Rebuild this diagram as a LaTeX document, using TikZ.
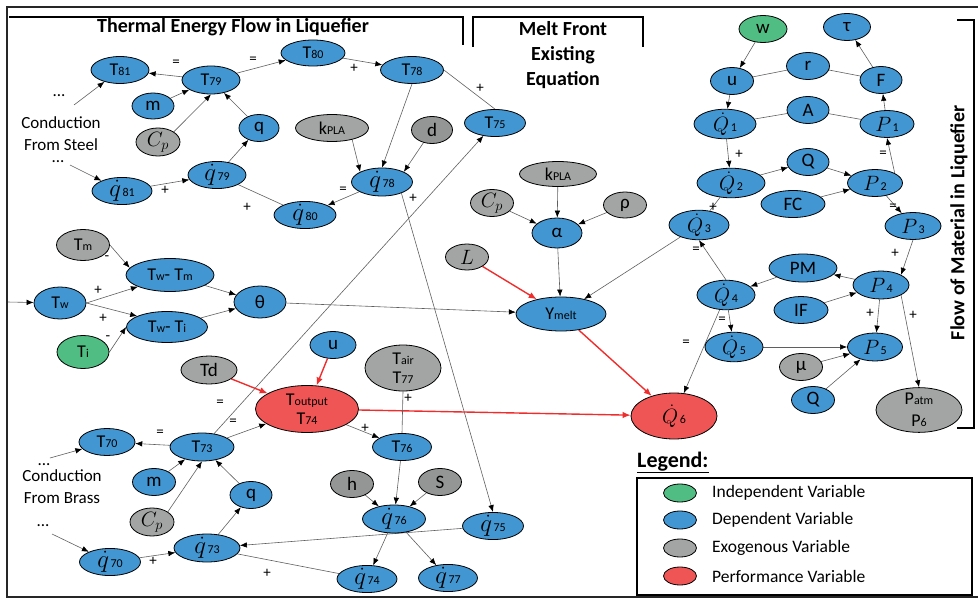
\documentclass[tikz,border=0pt]{standalone}
\usepackage{fontspec}
\setmainfont{Carlito}
\usetikzlibrary{shapes.geometric,arrows.meta}
\definecolor{cdep}{RGB}{66,150,210}
\definecolor{cexo}{RGB}{163,165,165}
\definecolor{cexod}{RGB}{148,150,150}
\definecolor{cind}{RGB}{80,190,130}
\definecolor{cperf}{RGB}{240,85,85}
\definecolor{cred}{RGB}{240,45,45}
\definecolor{cline}{RGB}{95,95,95}
\newcommand\subt[1]{{\fontsize{12}{12}\selectfont #1}}
\newcommand\qd{{\fontsize{23}{23}\selectfont$\dot q$}\kern1.5pt}
\newcommand\Qd{{\fontsize{21}{21}\selectfont$\dot Q$}\kern1.5pt}
\newcommand\Pm{{\fontsize{21}{21}\selectfont$P$}\kern1.5pt}
\newcommand\Cpm{{\fontsize{21}{21}\selectfont$C_p$}}
\newcommand\Lm{{\fontsize{21}{21}\selectfont$L$}}
\pgfdeclarelayer{bg}
\pgfsetlayers{bg,main}
\tikzset{
  v/.style={ellipse, draw=black, line width=0.8pt, inner sep=-1pt, font=\fontsize{18}{19}\selectfont},
  dep/.style={v, fill=cdep},
  exo/.style={v, fill=cexo},
  exod/.style={v, fill=cexod},
  ind/.style={v, fill=cind},
  perf/.style={v, fill=cperf},
  big/.style={font=\fontsize{19}{20}\selectfont},
  sz/.style 2 args={minimum width=#1pt, minimum height=#2pt},
  arr/.style={draw=cline, line width=0.6pt, -{Latex[length=7pt,width=5.5pt,black]}},
  ln/.style={draw=cline, line width=0.6pt},
  rarr/.style={draw=cred, line width=1.4pt, -{Latex[length=8pt,width=6.5pt]}},
  lab/.style={font=\fontsize{15}{15}\selectfont, inner sep=0pt},
  ann/.style={font=\fontsize{17}{22}\selectfont, align=center, inner sep=0pt},
  ttl/.style={font=\bfseries\fontsize{20}{25}\selectfont, align=center, inner sep=0pt},
  legt/.style={font=\fontsize{17.5}{18}\selectfont, anchor=west, inner sep=0pt},
}
\begin{document}
\begin{tikzpicture}[x=1pt,y=-1pt]
\useasboundingbox (0,0) rectangle (978,599);
% frame and brackets
\draw[line width=2.5pt, draw=black!85] (978,7) -- (7,7) -- (7,597) -- (978,597);
\draw[line width=1.6pt] (9,17) -- (463,17) -- (463,45);
\draw[line width=1.6pt] (473,47) -- (473,17) -- (643,17) -- (643,47);
\draw[line width=1.6pt] (957,20) -- (974,20) -- (974,428) -- (957,428);
\node[ttl] (t1) at (233,27) {Thermal Energy Flow in Liquefier};
\node[ttl] (t2) at (563,55) {Melt Front\\Existing\\Equation};
\node[ttl, rotate=90] (t3) at (959,223) {Flow of Material in Liquefier};

% ---- top-left nodes
\node[dep,sz={58}{27}] (T81) at (120,70) {T\subt{81}};
\node[dep,sz={58}{28}] (T79) at (211,80) {T\subt{79}};
\node[dep,big,sz={42}{26}] (m1) at (153,106) {m};
\node[exo,sz={44}{28}] (cp1) at (158,142) {\Cpm};
\node[dep,big,sz={40}{27}] (q1) at (259,128) {q};
\node[dep,sz={58}{27}] (qd79) at (217,175) {\qd\subt{79}};
\node[dep,sz={60}{27}] (qd81) at (122,191) {\qd\subt{81}};
\node[dep,sz={64}{26}] (T80) at (313,53) {T\subt{80}};
\node[dep,sz={63}{27}] (T78) at (412,70) {T\subt{78}};
\node[exo,sz={73}{27}] (kp1) at (332,128) {k\subt{PLA}};
\node[exod,big,sz={41}{27}] (d) at (432,130) {d};
\node[dep,sz={61}{28}] (qd78) at (382,182) {\qd\subt{78}};
\node[dep,sz={62}{27}] (qd80) at (305,215) {\qd\subt{80}};
\node[dep,sz={61}{27}] (T75) at (495,123) {T\subt{75}};
\node[ann] (dt1) at (59,96) {...};
\node[ann] (cs) at (61,134) {Conduction\\From Steel};
\node[ann] (dt2) at (58,162) {...};
\coordinate (c1) at (74,105);
\coordinate (c2) at (70,165);

% ---- left-middle nodes
\node[exo,sz={53}{31}] (Tm) at (83,245) {T\subt{m}};
\node[dep,sz={88}{33}] (TwTm) at (170,275) {T\subt{w}- T\subt{m}};
\node[dep,sz={52}{32}] (Tw) at (60,303) {T\subt{w}};
\node[dep,big,sz={52}{32}] (theta) at (260,302) {θ};
\node[dep,sz={81}{31}] (TwTi) at (167,327) {T\subt{w}- T\subt{i}};
\node[ind,sz={52}{33}] (Ti) at (83,352) {T\subt{i}};
\coordinate (c5) at (7,302);

% ---- middle nodes
\node[exo,sz={77}{25}] (kp2) at (558,174) {k\subt{PLA}};
\node[exo,sz={43}{27}] (cp2) at (492,203) {\Cpm};
\node[exo,big,sz={43}{26}] (rho) at (625,205) {ρ};
\node[dep,big,sz={50}{30}] (alpha) at (557,233) {α};
\node[exo,sz={43}{26}] (L) at (467,257) {\Lm};
\node[dep,sz={90}{34}] (Y) at (561,314) {Y\subt{melt}};
\node[perf,big,sz={86}{46}] (Q6) at (674,416) {\Qd\subt{6}};
\node[dep,big,sz={46}{27}] (u2) at (333,345) {u};
\node[exo,sz={76}{46},align=center,font=\fontsize{18}{19}\selectfont] (Tair) at (403,368) {T\subt{air}\\T\subt{77}};
\node[perf,sz={103}{47},align=center,font=\fontsize{18}{19}\selectfont] (Tout) at (307,409) {T\subt{output}\\T\subt{74}};
\node[exo,big,sz={56}{28}] (Td) at (209,370) {Td};

% ---- right nodes
\node[ind,big,sz={48}{27}] (w) at (763,29) {w};
\node[dep,big,sz={47}{27}] (tau) at (847,27) {τ};
\node[dep,big,sz={43}{27}] (u1) at (732,81) {u};
\node[dep,big,sz={43}{27}] (r) at (808,66) {r};
\node[dep,big,sz={42}{27}] (F) at (881,80) {F};
\node[dep,big,sz={62}{27}] (Q1) at (725,124) {\Qd\subt{1}};
\node[dep,big,sz={42}{27}] (A) at (808,110) {A};
\node[dep,big,sz={54}{27}] (P1) at (887,124) {\Pm\subt{1}};
\node[dep,big,sz={68}{27}] (Q2) at (731,183) {\Qd\subt{2}};
\node[dep,big,sz={42}{27}] (Qa) at (808,162) {Q};
\node[dep,big,sz={55}{27}] (P2) at (875,183) {\Pm\subt{2}};
\node[dep,big,sz={64}{27}] (FC) at (793,204) {FC};
\node[dep,big,sz={60}{27}] (Q3) at (699,225) {\Qd\subt{3}};
\node[dep,big,sz={56}{27}] (P3) at (913,226) {\Pm\subt{3}};
\node[dep,big,sz={68}{28}] (PM) at (803,268) {PM};
\node[dep,big,sz={56}{28}] (P4) at (881,285) {\Pm\subt{4}};
\node[dep,big,sz={58}{27}] (Q4) at (726,295) {\Qd\subt{4}};
\node[dep,big,sz={54}{27}] (IF) at (801,310) {IF};
\node[dep,big,sz={58}{27}] (Q5) at (734,347) {\Qd\subt{5}};
\node[dep,big,sz={55}{28}] (P5) at (875,347) {\Pm\subt{5}};
\node[exo,big,sz={43}{27}] (mu) at (801,367) {μ};
\node[dep,big,sz={43}{27}] (Qb) at (813,400) {Q};
\node[exo,sz={86}{44},align=center,font=\fontsize{18}{22}\selectfont] (P6) at (919,410) {P\subt{atm}\\P\subt{6}};

% ---- bottom-left nodes
\node[dep,sz={56}{27}] (T70) at (107,442) {T\subt{70}};
\node[dep,sz={64}{28}] (T73) at (202,447) {T\subt{73}};
\node[dep,big,sz={43}{27}] (m2) at (154,482) {m};
\node[exo,sz={44}{28}] (cp3) at (152,522) {\Cpm};
\node[dep,big,sz={42}{27}] (q2) at (251,495) {q};
\node[dep,sz={61}{27}] (qd70) at (110,562) {\qd\subt{70}};
\node[dep,sz={66}{28}] (qd73) at (207,548) {\qd\subt{73}};
\node[ann] (dt3) at (44,465) {...};
\node[ann] (cb) at (62,487) {Conduction\\From Brass};
\node[ann] (dt4) at (43,526) {...};
\coordinate (c3) at (50,458);
\coordinate (c4) at (52,534);

% ---- bottom-middle nodes
\node[dep,sz={59}{27}] (T76) at (402,447) {T\subt{76}};
\node[exod,big,sz={43}{27}] (h) at (352,484) {h};
\node[exod,big,sz={43}{27}] (S) at (440,482) {S};
\node[dep,sz={63}{28}] (qd76) at (394,519) {\qd\subt{76}};
\node[dep,sz={61}{27}] (qd75) at (493,526) {\qd\subt{75}};
\node[dep,sz={60}{27}] (qd74) at (367,579) {\qd\subt{74}};
\node[dep,sz={59}{27}] (qd77) at (448,578) {\qd\subt{77}};

% ---- connectors
\begin{pgfonlayer}{bg}
\draw[arr] (c1) -- (T81);
\draw[arr] (c2) -- (qd81);
\draw[arr] (T79) -- (T81);
\draw[arr] (m1) -- (T79);
\draw[arr] (cp1.north east) -- (T79.south);
\draw[arr] (q1) -- (T79);
\draw[arr] (qd79) -- (q1);
\draw[arr] (qd81) -- (qd79);
\draw[arr] (T79) -- (T80);
\draw[arr] (T80) -- (T78);
\draw[arr] (T78.south) -- (qd78.north);
\draw[arr] (kp1.-30) -- (qd78.north west);
\draw[arr] (d) -- (qd78.north east);
\draw[arr] (qd78) -- (qd80);
\draw[ln] (qd79) -- (qd80);
\draw[ln] (T78.east) -- (T75.north);
\draw[arr] (qd78.-30) -- (qd75.north);
\draw[arr] (T73) -- (T75);
% left-middle
\draw[arr] (c5) -- (Tw);
\draw[arr] (Tm.east) -- (TwTm.170);
\draw[arr] (Tw.east) -- (TwTm.200);
\draw[arr] (Tw.east) -- (TwTi.160);
\draw[arr] (Ti.east) -- (TwTi.west);
\draw[arr] (TwTm) -- (theta);
\draw[arr] (TwTi) -- (theta);
\draw[arr] (theta) -- (Y);
% middle
\draw[arr] (kp2) -- (alpha);
\draw[arr] (cp2) -- (alpha);
\draw[arr] (rho) -- (alpha);
\draw[arr] (alpha) -- (Y);
\draw[rarr] (L) -- (Y);
\draw[arr] (Q3) -- (Y);
\draw[rarr] (Y) -- (Q6);
\draw[rarr] (Tout) -- (Q6);
\draw[rarr] (u2) -- (Tout);
\draw[rarr] (Td) -- (Tout);
% bottom
\draw[arr] (c3) -- (T70);
\draw[arr] (c4) -- (qd70);
\draw[arr] (T73) -- (T70);
\draw[arr] (m2) -- (T73);
\draw[arr] (cp3.north east) -- (T73.south);
\draw[arr] (q2) -- (T73);
\draw[arr] (qd73) -- (q2);
\draw[arr] (qd70) -- (qd73);
\draw[arr] (T73) -- (Tout);
\draw[arr] (qd75) -- (qd73);
\draw[ln] (qd73) -- (qd74);
\draw[arr] (Tout) -- (T76);
\draw[ln] (Tair.south) -- (T76.north);
\draw[arr] (T76) -- (qd76);
\draw[arr] (h) -- (qd76);
\draw[arr] (S) -- (qd76);
\draw[arr] (qd76) -- (qd74);
\draw[arr] (qd76) -- (qd77);
% right
\draw[arr] (w) -- (u1);
\draw[arr] (u1) -- (Q1);
\draw[ln] (u1) -- (r);
\draw[ln] (r) -- (F);
\draw[arr] (F) -- (tau);
\draw[arr] (P1) -- (F);
\draw[ln] (Q1) -- (A);
\draw[ln] (A) -- (P1);
\draw[arr] (Q1) -- (Q2);
\draw[arr] (Q2) -- (Qa);
\draw[arr] (Qa) -- (P2);
\draw[arr] (FC) -- (P2);
\draw[arr] (P2.north east) -- (P1.south);
\draw[arr] (P2) -- (P3);
\draw[ln] (Q2) -- (Q3);
\draw[arr] (P3.south) -- (P4.north east);
\draw[arr] (P4) -- (PM);
\draw[arr] (PM) -- (Q4);
\draw[arr] (Q4.north) -- (Q3.south);
\draw[arr] (IF) -- (P4);
\draw[arr] (P4) -- (P5);
\draw[arr] (P4.south east) -- (P6.north);
\draw[arr] (Q4) -- (Q5);
\draw[arr] (Q5) -- (P5);
\draw[arr] (mu) -- (P5);
\draw[arr] (Qb) -- (P5);
\draw[arr] (Q4) -- (Q6);
\end{pgfonlayer}

% ---- connector labels
\node[lab] (l1) at (176,63) {=};
\node[lab] (l2) at (253,60) {=};
\node[lab] (l3) at (354,68) {+};
\node[lab] (l4) at (480,88) {+};
\node[lab] (l5) at (165,190) {+};
\node[lab] (l6) at (343,190) {=};
\node[lab] (l7) at (247,207) {+};
\node[lab] (l8) at (413,198) {+};
\node[lab] (l9) at (107,258) {-};
\node[lab] (l10) at (98,290) {+};
\node[lab] (l11) at (103,318) {+};
\node[lab] (l12) at (108,338) {-};
\node[lab] (l13) at (160,433) {=};
\node[lab] (l14) at (220,403) {=};
\node[lab] (l15) at (233,422) {=};
\node[lab] (l16) at (153,561) {+};
\node[lab] (l17) at (267,573) {+};
\node[lab] (l18) at (365,428) {+};
\node[lab] (l19) at (408,398) {+};
\node[lab] (l20) at (739,154) {+};
\node[lab] (l21) at (883,154) {=};
\node[lab] (l22) at (893,207) {=};
\node[lab] (l23) at (713,207) {+};
\node[lab] (l24) at (895,253) {+};
\node[lab] (l25) at (696,250) {=};
\node[lab] (l26) at (870,313) {+};
\node[lab] (l27) at (913,315) {+};
\node[lab] (l28) at (722,320) {=};
\node[lab] (l29) at (686,343) {=};

% ---- legend
\node[font=\bfseries\fontsize{22}{22}\selectfont, anchor=base west, inner sep=0pt] (leg) at (637,467) {\underline{Legend:}};
\draw[line width=1.3pt] (637,478) rectangle (972,595);
\node[ind,sz={33}{18}] (li1) at (680,493) {};
\node[dep,sz={33}{18}] (li2) at (680,520) {};
\node[exo,sz={33}{18}] (li3) at (680,548) {};
\node[perf,sz={33}{18}] (li4) at (680,576) {};
\node[legt] (lt1) at (712,493) {Independent Variable};
\node[legt] (lt2) at (712,520) {Dependent Variable};
\node[legt] (lt3) at (712,548) {Exogenous Variable};
\node[legt] (lt4) at (712,576) {Performance Variable};
\end{tikzpicture}
\end{document}
